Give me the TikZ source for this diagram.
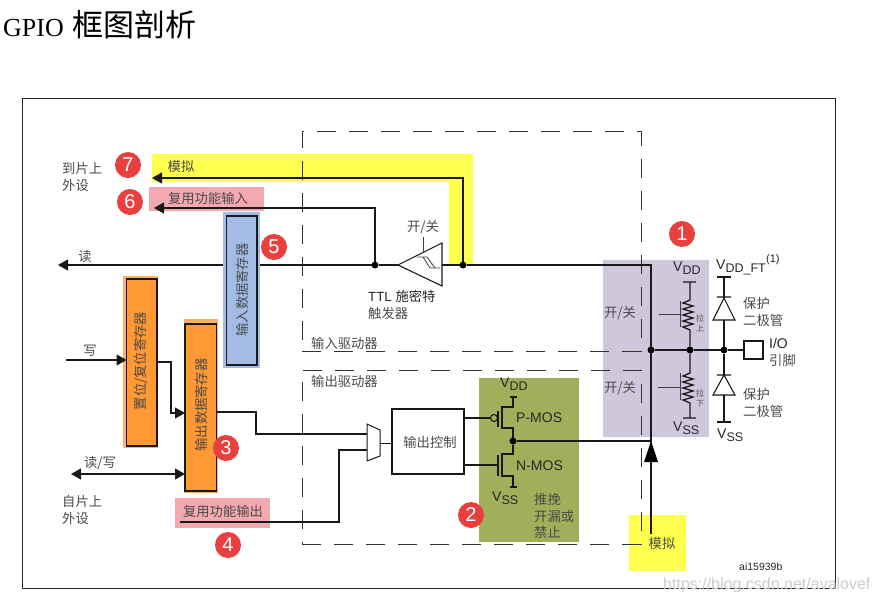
\documentclass[tikz,border=0pt]{standalone}
\usepackage{fontspec}
\setmainfont{Liberation Sans}
\newfontfamily\cjk{Noto Sans CJK SC}
\newfontfamily\serifl{Liberation Serif}
\usetikzlibrary{arrows.meta,calc}
\definecolor{cyel}{HTML}{FFFF4D}
\definecolor{cpink}{HTML}{F4A9B0}
\definecolor{cpurple}{HTML}{CFC8DC}
\definecolor{colive}{HTML}{A0AF5A}
\definecolor{cred}{HTML}{E8403F}
\definecolor{corange}{HTML}{FF9933}
\definecolor{chalo}{HTML}{FFB060}
\definecolor{cblue}{HTML}{A4BCE4}
\definecolor{ctxt}{HTML}{4A4A4A}
\newcommand{\rbox}[7]{\node[#2,inner sep=0pt,outer sep=0pt,minimum width={(#5-#3)*1pt},minimum height={(#6-#4)*1pt}] (#1) at ({(#3+#5)/2},{(#4+#6)/2}) {#7};}
\newcommand{\Vsub}[1]{V\raisebox{-3pt}{\fontsize{12.5}{13}\selectfont #1}}
\tikzset{
  x=1pt,y=-1pt,
  wire/.style={line width=1.1pt,black!90},
  thin wire/.style={line width=0.8pt,black!75},
  tip/.style={-{Triangle[length=10pt,width=11pt]}},
  dot/.style={circle,fill=black,inner sep=0pt,minimum size=7pt,outer sep=0pt},
  badge/.style={circle,fill=cred,text=white,inner sep=0pt,minimum size=26pt,font=\fontsize{20}{20}\selectfont},
  zh/.style={font=\cjk\fontsize{13.3}{16.5}\selectfont,text=ctxt,inner sep=0pt,anchor=west},
  zhc/.style={zh,anchor=center},
  zhsmall/.style={font=\cjk\fontsize{8}{10}\selectfont,text=ctxt,inner sep=0pt},
  en/.style={font=\fontsize{14}{16}\selectfont,text=black!85,inner sep=0pt,anchor=west},
  dashbox/.style={draw=black!80,line width=0.8pt,dash pattern=on 19pt off 13pt},
  reg/.style={draw=black!90,line width=1.2pt},
}
\begin{document}
\begin{tikzpicture}
\useasboundingbox (0,0) rectangle (878,603);
% title
\node[anchor=west,inner sep=0pt] (title) at (3,25) {{\serifl\fontsize{26}{30}\selectfont GPIO}\hspace{9pt}{\cjk\fontsize{31}{34}\selectfont 框图剖析}};
% frame
\rbox{frame}{draw=black!85,line width=1pt}{22}{98}{835}{588}{}
% background patches
\fill[cyel] (152,154) -- (473,154) -- (473,265) -- (449,265) -- (449,182) -- (152,182) -- cycle;
\rbox{pinkin}{fill=cpink}{149}{187}{264}{211}{}
\rbox{pinkout}{fill=cpink}{175}{498}{270}{528}{}
\rbox{purple}{fill=cpurple}{603}{260}{709}{437}{}
\rbox{olive}{fill=colive}{479}{378}{579}{542}{}
\rbox{yelan}{fill=cyel}{629}{515}{686}{571}{}
% dashed driver boxes
\rbox{indrv}{dashbox}{302}{131}{641}{351}{}
\rbox{outdrv}{dashbox}{302}{370}{641}{544}{}
% dots
\node[dot] (d1) at (375,265) {};
\node[dot] (d2) at (463,265) {};
\node[dot] (d3) at (651,350) {};
\node[dot] (d4) at (690,350) {};
\node[dot] (d5) at (724,350) {};
\node[dot] (d6) at (513,441) {};
% free ends
\coordinate (rdend) at (58,265);
\coordinate (modend) at (152,178);
\coordinate (altend) at (154,208);
\coordinate (wrstart) at (66,360);
\coordinate (rwend) at (71,474);
\coordinate (altstart) at (180,522);
\coordinate (anastart) at (651,534);
\coordinate (outcorner) at (651,441);
\coordinate (incorner) at (651,265);
% schmitt trigger
\coordinate (sa) at (398,265);
\coordinate (sb) at (442,243);
\coordinate (sc) at (442,286);
\coordinate (sr) at (442,265);
\coordinate (sen) at (423,237);
\coordinate (sen2) at (423,253);
% read / input lines
\draw[wire] (sr) -- (d2) -- (incorner) -- (outcorner);
\draw[wire] (d1) -- (sa);
\draw[wire,tip] (d1) -- (rdend);
\draw[wire,tip] (d2) |- (modend);
\draw[wire,tip] (d1) |- (altend);
% registers
\rbox{inhalo}{fill=cblue}{223}{212}{260}{368}{}
\rbox{inreg}{reg,fill=cblue}{226.5}{216}{257}{365}{}
\rbox{sethalo}{fill=chalo}{123}{276}{158}{448}{}
\rbox{setreg}{reg,fill=corange}{126.5}{279}{157}{446}{}
\rbox{outhalo}{fill=chalo}{184}{319}{218}{493}{}
\rbox{outreg}{reg,fill=corange}{185}{324}{216.5}{491}{}
\node[zhc,rotate=90] (t1) at (242,290) {输入数据寄存器};
\node[zhc,rotate=90] (t2) at (141,361) {置位/复位寄存器};
\node[zhc,rotate=90] (t3) at (201,405) {输出数据寄存器};
% schmitt
\draw[wire,fill=white] (sa) -- (sb) -- (sc) -- cycle;
\draw[thin wire] (sen) -- (sen2);
\draw[thin wire] (417,257) -- (427,257) -- (435,268) -- (440,268) (423,257) -- (430,268) -- (435,268);
% write side
\draw[wire,tip] (wrstart) -- (setreg.west |- wrstart);
\coordinate (s1) at (setreg.east |- 0,362);
\coordinate (s2) at (outreg.west |- 0,413);
\draw[wire,tip] (s1) -- (171,362) -- (171,413) -- (s2);
\draw[wire,{Triangle[length=10pt,width=11pt]}-{Triangle[length=10pt,width=11pt]}] (rwend) -- (outreg.west |- rwend);
% mux and output control
\fill[white,draw=black!90,line width=1pt] (367,424) coordinate (ma) -- (380,430) -- (380,456) -- (367,461) -- cycle;
\coordinate (m1) at (367,434);
\coordinate (m2) at (367,450);
\coordinate (m3) at (380,443.5);
\rbox{ctrl}{draw=black!90,line width=1.1pt,fill=white}{392}{409}{464}{474}{}
\node[zhc] (t4) at (430,442) {输出控制};
\coordinate (o1) at (outreg.east |- 0,412);
\draw[wire] (o1) -- (256,412) -- (256,434) -- (m1);
\draw[wire] (altstart) -- (339,522) -- (339,450) -- (m2);
\draw[wire] (m3) -- (ctrl.west |- m3);
% MOS
\coordinate (pg) at (490,418);
\coordinate (ng) at (498,465);
\draw[wire] (ctrl.east |- pg) -- (pg);
\draw[wire] (ctrl.east |- ng) -- (ng);
\draw[wire] (494,418) circle (3.5);
\draw[wire] (498,411) -- (498,427);
\draw[wire] (498,455) -- (498,476);
\draw[wire] (510,397) -- (517,397) (513,397) -- (513,407) -- (502,407) -- (502,428) -- (513,428) -- (d6) -- (513,454) -- (502,454) -- (502,476) -- (513,476) -- (513,487) (510,487) -- (517,487);
\draw[wire] (d6) -- (outcorner);
\draw[wire] (anastart) -- (outcorner);
\fill[black] (outcorner) -- (658,462) -- (644,462) -- cycle;
% pull-up / pull-down
\draw[wire] (d3) -- (d4) -- (d5) -- (744,350);
\draw[wire,line width=1.3pt] (683,282) -- (696,282) (690,282) -- (690,300) -- (683,303) -- (693,306) -- (683,309) -- (693,312) -- (683,315) -- (693,318) -- (683,321) -- (693,324) -- (683,327) -- (690,330) -- (d4);
\draw[wire,line width=1.3pt] (d4) -- (690,373) -- (683,376) -- (693,379) -- (683,382) -- (693,385) -- (683,388) -- (693,391) -- (683,394) -- (693,397) -- (683,400) -- (690,403) -- (690,418) (683,418) -- (696,418);
\draw[thin wire] (680,301) -- (680,327) (659,314) -- (680,314);
\draw[thin wire] (680,373) -- (680,400) (658,387) -- (680,387);
% protection diodes
\draw[wire] (717,277) -- (731,277) (724,277) -- (724,298);
\draw[wire] (717,297) -- (731,297) (724,298) -- (713,320) -- (735,320) -- cycle;
\draw[wire] (724,320) -- (d5) -- (724,375);
\draw[wire] (717,375) -- (731,375) (724,375) -- (713,395) -- (735,395) -- cycle;
\draw[wire] (724,395) -- (724,422) (717,422) -- (731,422);
\rbox{io}{draw=black!90,line width=1.1pt,fill=white}{744}{341}{763}{359}{}
% text labels
\node[zh,align=left] (a1) at (62,177) {到片上\\外设};
\node[zhc] (a2) at (85,256) {读};
\node[zhc] (a3) at (90,351) {写};
\node[zhc] (a4) at (100,463) {读/写};
\node[zh,align=left] (a5) at (62,510) {自片上\\外设};
\node[zhc] (a6) at (181,166) {模拟};
\node[zhc] (a7) at (208,198) {复用功能输入};
\node[zhc] (a8) at (223,511) {复用功能输出};
\node[zhc] (a9) at (423,227) {开/关};
\node[anchor=west,inner sep=0pt,text=black!85] (a10) at (368,296) {\fontsize{13.3}{15}\selectfont TTL {\cjk 施密特}};
\node[zh] (a11) at (368,313) {触发器};
\node[zh] (a12) at (311,343) {输入驱动器};
\node[zh] (a13) at (311,381) {输出驱动器};
\node[zhc] (a14) at (620,313) {开/关};
\node[zhc] (a15) at (620,388) {开/关};
\node[zhsmall,align=center] (a16) at (700,323) {拉\\上};
\node[zhsmall,align=center] (a17) at (700,398) {拉\\下};
\node[zh,align=left] (a18) at (743,312) {保护\\二极管};
\node[zh,align=left] (a19) at (743,403) {保护\\二极管};
\node[zh,align=left] (a20) at (534,516) {推挽\\开漏或\\禁止};
\node[zhc] (a21) at (662,543) {模拟};
\node[en] (b1) at (673,268) {\Vsub{DD}};
\node[en] (b2) at (673,428) {\Vsub{SS}};
\node[en] (b3) at (716,267) {\Vsub{DD\_FT}};
\node[en,font=\fontsize{11}{12}\selectfont] (b4) at (766,260) {(1)};
\node[en] (b5) at (717,435) {\Vsub{SS}};
\node[en] (b6) at (500,384) {\Vsub{DD}};
\node[en] (b7) at (492,498) {\Vsub{SS}};
\node[en] (b8) at (516,418) {P-MOS};
\node[en] (b9) at (516,466) {N-MOS};
\node[en] (b10) at (769,343) {I/O};
\node[zh] (b11) at (769,360) {引脚};
\node[en,font=\fontsize{10.5}{12}\selectfont] (b12) at (739,567) {ai15939b};
% badges
\node[badge] (c1) at (682,234) {1};
\node[badge] (c2) at (471,515) {2};
\node[badge] (c3) at (226,448) {3};
\node[badge] (c4) at (228,545) {4};
\node[badge] (c5) at (274,247) {5};
\node[badge] (c6) at (130,202) {6};
\node[badge] (c7) at (128,165) {7};
% watermark
\node[anchor=west,inner sep=0pt,text=black!20,font=\fontsize{16}{18}\selectfont] (wm) at (663,585) {https://blog.csdn.net/avalovef};
\end{tikzpicture}
\end{document}
